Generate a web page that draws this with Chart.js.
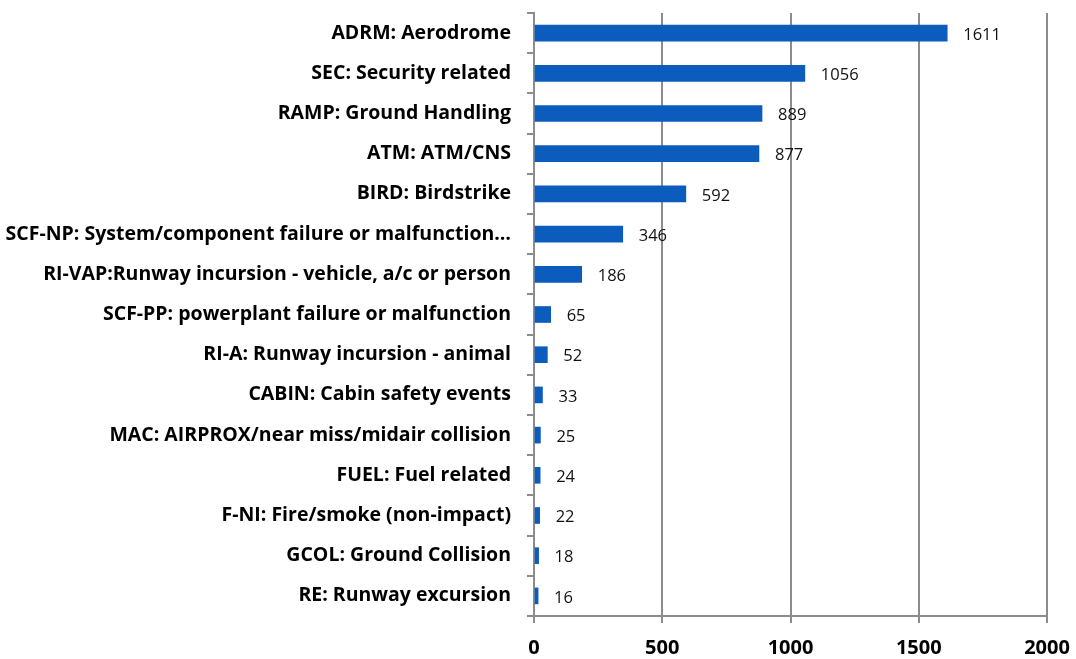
<!DOCTYPE html>
<html>
<head>
<meta charset="utf-8">
<script src="https://cdn.jsdelivr.net/npm/chart.js@4"></script>
<style>
  html, body { margin: 0; padding: 0; background: #ffffff; }
  #wrap { width: 1076px; height: 659px; }
</style>
</head>
<body>
<div id="wrap"><canvas id="occChart" width="1076" height="659"></canvas></div>
<script>
// Occurrence categories and counts
const categories = [
  "ADRM: Aerodrome",
  "SEC: Security related",
  "RAMP: Ground Handling",
  "ATM: ATM/CNS",
  "BIRD: Birdstrike",
  "SCF-NP: System/component failure or malfunction…",
  "RI-VAP:Runway incursion - vehicle, a/c or person",
  "SCF-PP: powerplant failure or malfunction",
  "RI-A: Runway incursion - animal",
  "CABIN: Cabin safety events",
  "MAC: AIRPROX/near miss/midair collision",
  "FUEL: Fuel related",
  "F-NI: Fire/smoke (non-impact)",
  "GCOL: Ground Collision",
  "RE: Runway excursion"
];
const counts = [1611, 1056, 889, 877, 592, 346, 186, 65, 52, 33, 25, 24, 22, 18, 16];
const xTicks = [0, 500, 1000, 1500, 2000];

const fontFamily = "'Open Sans', Lato, 'Liberation Sans', sans-serif";
const axisGray = "#8c8c8c";

// draws the value next to each bar
const valueLabels = {
  id: "valueLabels",
  afterDatasetsDraw(chart) {
    const ctx = chart.ctx;
    const meta = chart.getDatasetMeta(0);
    ctx.save();
    ctx.font = "16.5px " + fontFamily;
    ctx.fillStyle = "#111111";
    ctx.textAlign = "left";
    ctx.textBaseline = "middle";
    meta.data.forEach((bar, i) => {
      ctx.fillText(String(counts[i]), bar.x + 16, bar.y + 2);
    });
    ctx.restore();
  }
};

const ctx = document.getElementById("occChart").getContext("2d");
new Chart(ctx, {
  type: "bar",
  data: {
    labels: categories,
    datasets: [{
      data: counts,
      backgroundColor: "#0B5CBD",
      borderWidth: 0,
      barThickness: 16
    }]
  },
  options: {
    indexAxis: "y",
    responsive: false,
    animation: false,
    layout: { padding: { left: 0, right: 29, top: 13, bottom: 0 } },
    plugins: {
      legend: { display: false },
      tooltip: { enabled: false }
    },
    scales: {
      x: {
        min: 0,
        max: 2000,
        afterBuildTicks: (scale) => { scale.ticks = xTicks.map(v => ({ value: v })); },
        grid: {
          color: axisGray,
          lineWidth: 2,
          tickLength: 7
        },
        border: { color: axisGray, width: 2 },
        ticks: {
          color: "#000000",
          padding: 13,
          callback: (v) => String(v),
          font: { family: fontFamily, size: 20, weight: "bold" }
        },
        afterFit: (scale) => {
          scale.height = 43;
          scale.paddingLeft = 0;
          scale.paddingRight = 0;
        }
      },
      y: {
        grid: {
          offset: true,
          drawOnChartArea: false,
          color: axisGray,
          lineWidth: 2,
          tickLength: 7
        },
        border: { color: axisGray, width: 2 },
        ticks: {
          color: "#000000",
          padding: 16,
          autoSkip: false,
          font: { family: fontFamily, size: 19.5, weight: "bold" }
        },
        afterFit: (scale) => {
          scale.width = 534;
          scale.paddingTop = 0;
          scale.paddingBottom = 0;
        }
      }
    }
  },
  plugins: [valueLabels]
});
</script>
</body>
</html>
